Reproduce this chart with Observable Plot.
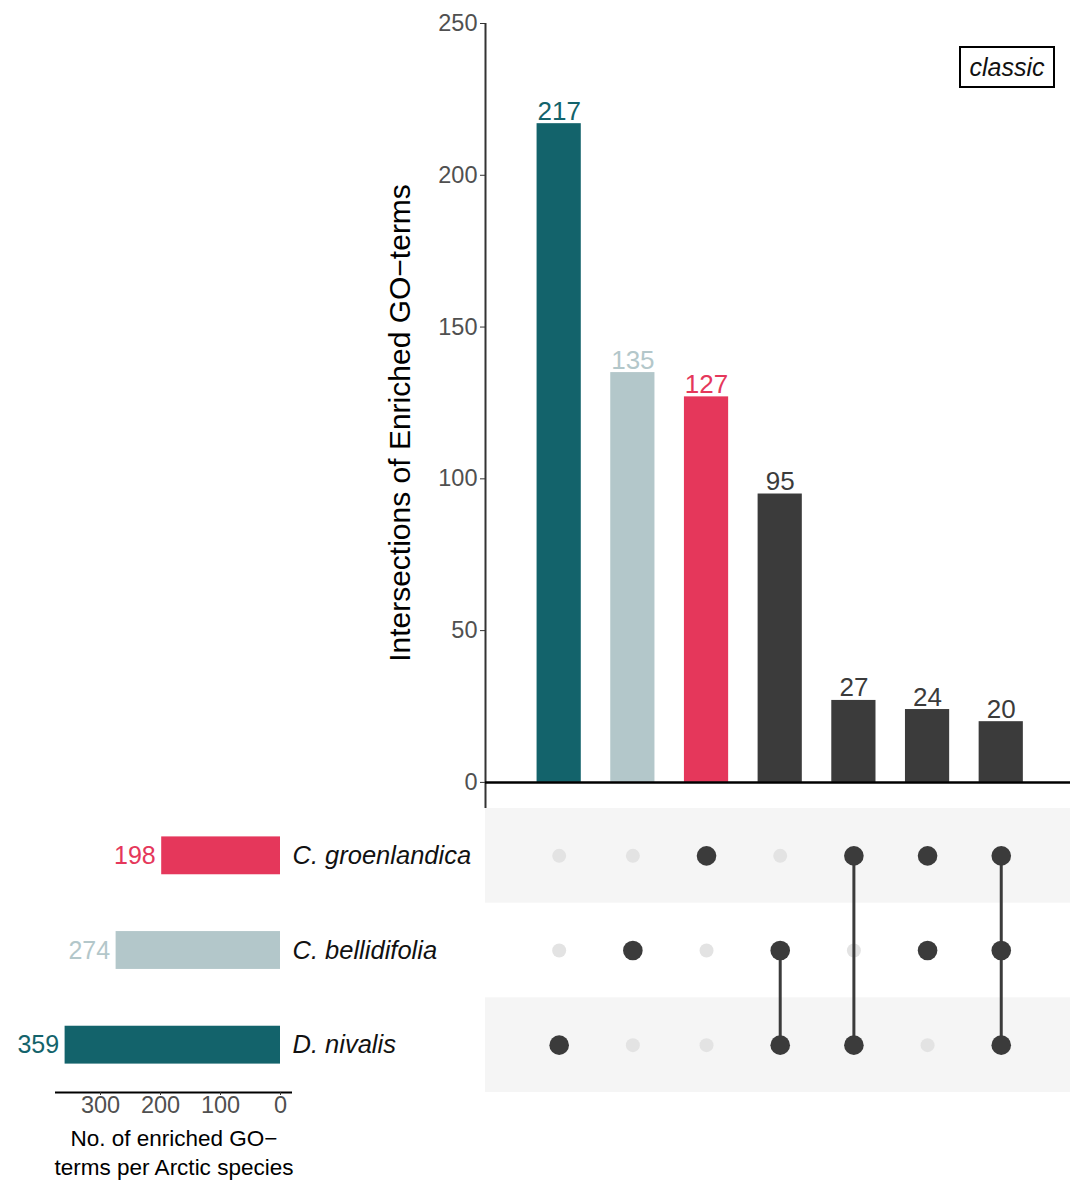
<!DOCTYPE html>
<html>
<head>
<meta charset="utf-8">
<script src="https://cdn.jsdelivr.net/npm/d3@7"></script>
<script src="https://cdn.jsdelivr.net/npm/@observablehq/plot@0.6"></script>
<style>
  html, body { margin: 0; padding: 0; background: #ffffff; }
  #figure { position: relative; width: 1070px; height: 1180px; font-family: "Liberation Sans", Arial, Helvetica, sans-serif; }
  #figure > .panel { position: absolute; }
  #tag {
    position: absolute; left: 959px; top: 46px; width: 92px; height: 38px;
    border: 2px solid #000; font-style: italic; font-size: 25px; line-height: 38px;
    text-align: center; color: #111;
  }
</style>
</head>
<body>
<div id="figure"></div>
<script>
// Arctic species and their number of enriched GO-terms
const species = ["C. groenlandica", "C. bellidifolia", "D. nivalis"];
const speciesTotals = [198, 274, 359];
const speciesColors = ["#e5375b", "#b3c7ca", "#13636b"];

// Intersections, ordered by size
const intersectionCounts = [217, 135, 127, 95, 27, 24, 20];
const intersectionMembers = [
  ["D. nivalis"],
  ["C. bellidifolia"],
  ["C. groenlandica"],
  ["C. bellidifolia", "D. nivalis"],
  ["C. groenlandica", "D. nivalis"],
  ["C. groenlandica", "C. bellidifolia"],
  ["C. groenlandica", "C. bellidifolia", "D. nivalis"]
];
const intersectionColors = ["#13636b", "#b3c7ca", "#e5375b", "#3b3b3b", "#3b3b3b", "#3b3b3b", "#3b3b3b"];
const connectorDrawn = [false, false, false, true, true, false, true];

const yTicks = [0, 50, 100, 150, 200, 250];
const setTicks = [0, 100, 200, 300];
const yTitle = "Intersections of Enriched GO\u2212terms";
const setTitle = "No. of enriched GO\u2212\nterms per Arctic species";
const tagText = "classic";

const FONT = "\"Liberation Sans\", Arial, Helvetica, sans-serif";
const DARK = "#3b3b3b";

// Derived tables
const bars = intersectionCounts.map((count, i) => ({pos: i + 1, count, color: intersectionColors[i]}));
const matrix = [];
intersectionMembers.forEach((members, i) => {
  species.forEach((s, row) => {
    matrix.push({pos: i + 1, row, on: members.includes(s)});
  });
});
const connectors = intersectionMembers
  .map((members, i) => {
    const rows = members.map(m => species.indexOf(m));
    return {pos: i + 1, y1: d3.min(rows), y2: d3.max(rows), drawn: connectorDrawn[i]};
  })
  .filter(d => d.drawn);
const sets = species.map((name, row) => ({name, row, total: speciesTotals[row], color: speciesColors[row]}));
const stripeRows = [0, 2];

const xDomain = [0, 7.94];
const fig = document.getElementById("figure");

function place(node, left, topPx) {
  node.classList.add("panel");
  node.style.left = left + "px";
  node.style.top = topPx + "px";
  fig.appendChild(node);
}

// Intersection size bars
const barsPlot = Plot.plot({
  width: 1070,
  height: 808,
  marginLeft: 485,
  marginRight: 0,
  marginTop: 23,
  marginBottom: 0,
  style: {fontFamily: FONT, fontSize: "23px", background: "transparent", overflow: "visible"},
  x: {domain: xDomain, axis: null},
  y: {domain: [-8.6, 250], axis: null},
  color: {type: "identity"},
  marks: [
    Plot.axisY({ticks: yTicks, tickSize: 5, tickPadding: 3, fontSize: 23.5, fill: "#505050", stroke: "#333", label: null}),
    Plot.ruleX([0], {stroke: "#333", strokeWidth: 2}),
    Plot.rectY(bars, {x1: d => d.pos - 0.3, x2: d => d.pos + 0.3, y1: 0, y2: "count", fill: "color"}),
    Plot.ruleY([0], {stroke: "#000", strokeWidth: 2.5}),
    Plot.text(bars, {x: "pos", y: "count", text: d => String(d.count), fill: "color", fontSize: 26, lineAnchor: "bottom", dy: -4}),
    Plot.text([yTitle], {frameAnchor: "left", textAnchor: "middle", rotate: -90, dx: -85, dy: 7, fontSize: 30, fill: "#000"})
  ]
});
place(barsPlot, 0, 0);

// Membership matrix
const matrixPlot = Plot.plot({
  width: 585,
  height: 284,
  marginLeft: 0,
  marginRight: 0,
  marginTop: 0,
  marginBottom: 0,
  style: {fontFamily: FONT, background: "transparent", overflow: "visible"},
  x: {domain: xDomain, axis: null},
  y: {domain: [2.5, -0.5], axis: null},
  marks: [
    Plot.rect(stripeRows, {x1: xDomain[0], x2: xDomain[1], y1: d => d - 0.5, y2: d => d + 0.5, fill: "#f5f5f5"}),
    Plot.dot(matrix.filter(d => !d.on), {x: "pos", y: "row", r: 7, fill: "#e3e3e3"}),
    Plot.ruleX(connectors, {x: "pos", y1: "y1", y2: "y2", stroke: DARK, strokeWidth: 3}),
    Plot.dot(matrix.filter(d => d.on), {x: "pos", y: "row", r: 9.8, fill: DARK})
  ]
});
place(matrixPlot, 485, 808);

// Set size bars
const setsPlot = Plot.plot({
  width: 490,
  height: 372,
  marginLeft: 55,
  marginRight: 198,
  marginTop: 0,
  marginBottom: 88,
  style: {fontFamily: FONT, fontSize: "23px", background: "transparent", overflow: "visible"},
  x: {domain: [-20, 375], reverse: true, axis: null},
  y: {domain: [2.5, -0.5], axis: null},
  color: {type: "identity"},
  marks: [
    Plot.rectX(sets, {x1: 0, x2: "total", y1: d => d.row - 0.2, y2: d => d.row + 0.2, fill: "color"}),
    Plot.text(sets, {x: "total", y: "row", text: d => String(d.total), fill: "color", textAnchor: "end", dx: -6, fontSize: 25}),
    Plot.text(sets, {x: 0, y: "row", text: "name", textAnchor: "start", dx: 12, fontSize: 25.5, fontStyle: "italic", fill: "#111"}),
    Plot.ruleY([2.5], {stroke: "#000", strokeWidth: 2}),
    Plot.axisX({ticks: setTicks, tickSize: 3, tickPadding: 1, fontSize: 23.5, fill: "#505050", stroke: "#333", label: null, anchor: "bottom"}),
    Plot.text([setTitle], {frameAnchor: "bottom", lineAnchor: "top", dy: 34, lineHeight: 1.25, fontSize: 22.5, fill: "#000"})
  ]
});
place(setsPlot, 0, 808);

// Method tag
const tag = document.createElement("div");
tag.id = "tag";
tag.textContent = tagText;
fig.appendChild(tag);
</script>
</body>
</html>
